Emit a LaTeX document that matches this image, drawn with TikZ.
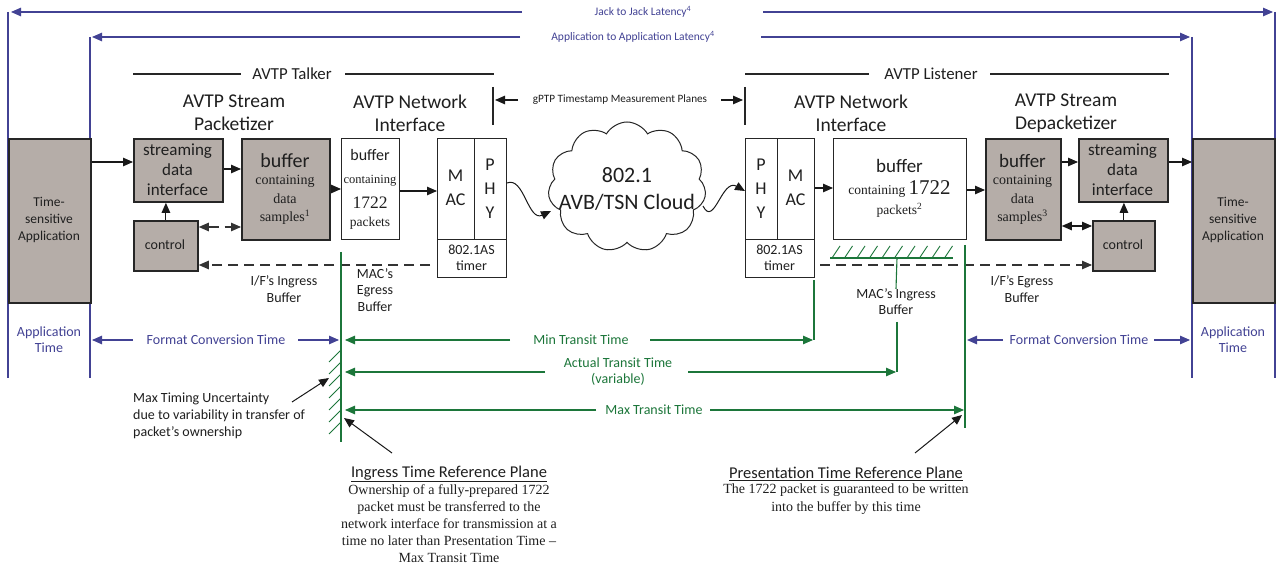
\documentclass[tikz,border=0pt]{standalone}
\usepackage{fontspec}
\setmainfont{Carlito}
\newfontfamily\tms{Liberation Serif}
\usetikzlibrary{arrows.meta,shapes.symbols}
\newcommand\myfs[2]{\fontsize{#1}{#2}\selectfont}
\definecolor{boxgray}{RGB}{181,173,168}
\definecolor{lblue}{RGB}{66,66,148}
\definecolor{lgreen}{RGB}{28,118,58}
\begin{document}
\begin{tikzpicture}[x=1pt,y=-1pt,
  >={Triangle[length=10pt,width=8.5pt]},
  gbox/.style={draw=black!85,line width=1.8pt,fill=boxgray,anchor=north west,inner sep=0pt},
  wbox/.style={draw=black!85,line width=1pt,fill=white,anchor=north west,inner sep=0pt},
  lbl/.style={inner sep=0pt,align=center,text=black!88},
  arr/.style={->,line width=1.1pt,black!90},
  darr/.style={line width=1.1pt,dash pattern=on 10pt off 6pt,black!80},
  bl/.style={line width=1.1pt,lblue},
  gl/.style={line width=1.1pt,lgreen},
  hl/.style={line width=1.8pt,black!85},
  blt/.style={lbl,text=lblue},
  glt/.style={lbl,text=lgreen},
]
\fill[white] (0,0) rectangle (1283,569);
\useasboundingbox (0,0) rectangle (1283,569);

% ---------- blue latency frame ----------
\coordinate (jL) at (8,12);   \coordinate (jR) at (1275,12);
\coordinate (aL) at (90,37);  \coordinate (aR) at (1192,37);
\draw[bl] (jL) -- (8,378);
\draw[bl] (aL) -- (90,378);
\draw[bl] (aR) -- (1192,378);
\draw[bl] (jR) -- (1275,378);
\node[blt,font=\myfs{11.5}{13}] (jack) at (643,12) {Jack to Jack Latency\textsuperscript{4}};
\node[blt,font=\myfs{11.5}{13}] (a2a) at (633,37) {Application to Application Latency\textsuperscript{4}};
\coordinate (jackL) at (522,12); \coordinate (jackR) at (763,12);
\coordinate (a2aL) at (520,37);  \coordinate (a2aR) at (761,37);
\draw[bl,->] (jackL) -- ([xshift=3pt]jL);
\draw[bl,->] (jackR) -- ([xshift=-2pt]jR);
\draw[bl,->] (a2aL) -- ([xshift=2pt]aL);
\draw[bl,->] (a2aR) -- ([xshift=-2pt]aR);

% ---------- headers ----------
\node[lbl,font=\myfs{16.8}{20}] (talk) at (292,74) {AVTP Talker};
\draw[hl] (133,74) -- (241,74);
\draw[hl] (345,74) -- (494,74);
\node[lbl,font=\myfs{16.8}{20}] (list) at (931,74) {AVTP Listener};
\draw[hl] (745,74) -- (869,74);
\draw[hl] (990,74) -- (1169,74);

\node[lbl,font=\myfs{19.5}{23}] (pkz) at (234,113) {AVTP Stream\\Packetizer};
\node[lbl,font=\myfs{19.5}{23}] (nil) at (410,113) {AVTP Network\\Interface};
\node[lbl,font=\myfs{19.5}{23}] (nir) at (851,113) {AVTP Network\\Interface};
\node[lbl,font=\myfs{19.5}{23}] (dpz) at (1066,113) {AVTP Stream\\Depacketizer};

% gPTP planes
\coordinate (gT1) at (493,87); \coordinate (gB1) at (493,125);
\coordinate (gT2) at (745,87); \coordinate (gB2) at (745,125);
\draw[line width=1.2pt,black!85] (gT1) -- (gB1);
\draw[line width=1.2pt,black!85] (gT2) -- (gB2);
\node[lbl,font=\myfs{11.2}{13}] (gptp) at (620,100) {gPTP Timestamp Measurement Planes};
\draw[arr] (518,100) -- (495,100);
\draw[arr] (721,100) -- (743,100);

% ---------- boxes ----------
\node[gbox,minimum width=82pt,minimum height=164pt] (appL) at (8,138) {};
\node[lbl,font=\myfs{13.5}{17}] (appLt) at (49,220) {Time-\\sensitive\\Application};
\node[gbox,minimum width=89pt,minimum height=63pt] (sdiL) at (133,138) {};
\node[lbl,font=\myfs{17}{20}] (sdiLt) at (177.5,169.5) {streaming\\data\\interface};
\node[gbox,minimum width=64pt,minimum height=50pt] (ctrlL) at (133,220) {};
\node[lbl,font=\myfs{14}{16}] (ctrlLt) at (165,245) {control};
\node[gbox,minimum width=88pt,minimum height=101pt] (bufL) at (241,138) {};
\node[lbl,font=\myfs{20}{22}] (bufLa) at (285,161) {buffer};
\node[lbl,font=\tms\myfs{14}{18.3}] (bufLb) at (285,200) {containing\\data\\samples\textsuperscript{1}};
\node[wbox,minimum width=58pt,minimum height=101pt] (pktL) at (341,138) {};
\node[lbl,font=\myfs{16}{17}] (pktLa) at (370,155) {buffer};
\node[lbl,font=\tms\myfs{12.5}{14}] (pktLb) at (370,181) {containing};
\node[lbl,font=\tms\myfs{17.5}{18}] (pktLc) at (370,203) {1722};
\node[lbl,font=\tms\myfs{13.5}{15}] (pktLd) at (370,223) {packets};
\node[wbox,minimum width=37pt,minimum height=101pt] (macL) at (437,138) {};
\node[lbl,font=\myfs{18}{24}] (macLt) at (455.5,188) {M\\AC};
\node[wbox,minimum width=32pt,minimum height=101pt] (phyL) at (474,138) {};
\node[lbl,font=\myfs{18}{24}] (phyLt) at (490,189) {P\\H\\Y};
\node[wbox,minimum width=69pt,minimum height=38pt] (timL) at (437,239) {};
\node[lbl,font=\myfs{14}{16}] (timLt) at (471.5,258) {802.1AS\\timer};

\node[draw=black!85,line width=1pt,fill=white,cloud,cloud puffs=11,cloud puff arc=120,aspect=1.25,minimum width=158pt,minimum height=130pt,inner sep=0pt] (cloud) at (627,187) {};
\node[lbl,font=\myfs{22}{27}] (cloudt) at (627,189) {802.1\\AVB/TSN Cloud};

\node[wbox,minimum width=32pt,minimum height=101pt] (phyR) at (745,138) {};
\node[lbl,font=\myfs{18}{24}] (phyRt) at (761,189) {P\\H\\Y};
\node[wbox,minimum width=37pt,minimum height=101pt] (macR) at (777,138) {};
\node[lbl,font=\myfs{18}{24}] (macRt) at (795.5,188) {M\\AC};
\node[wbox,minimum width=69pt,minimum height=38pt] (timR) at (745,239) {};
\node[lbl,font=\myfs{14}{16}] (timRt) at (779.5,258) {802.1AS\\timer};
\node[wbox,minimum width=133pt,minimum height=101pt] (pktR) at (833,138) {};
\node[lbl,font=\myfs{19}{21}] (pktRa) at (899.5,166) {buffer};
\node[lbl,font=\tms\myfs{13.5}{15}] (pktRb) at (899.5,189) {containing {\myfs{21}{22}1722}};
\node[lbl,font=\tms\myfs{13.5}{15}] (pktRc) at (899.5,210) {packets\textsuperscript{2}};
\node[gbox,minimum width=75pt,minimum height=101pt] (bufR) at (985,138) {};
\node[lbl,font=\myfs{19}{21}] (bufRa) at (1022.5,161) {buffer};
\node[lbl,font=\tms\myfs{14}{18.3}] (bufRb) at (1022.5,200) {containing\\data\\samples\textsuperscript{3}};
\node[gbox,minimum width=89pt,minimum height=63pt] (sdiR) at (1078,138) {};
\node[lbl,font=\myfs{17}{20}] (sdiRt) at (1122.5,169.5) {streaming\\data\\interface};
\node[gbox,minimum width=62pt,minimum height=50pt] (ctrlR) at (1092,220) {};
\node[lbl,font=\myfs{14}{16}] (ctrlRt) at (1123,245) {control};
\node[gbox,minimum width=82pt,minimum height=164pt] (appR) at (1192,138) {};
\node[lbl,font=\myfs{13.5}{17}] (appRt) at (1233,220) {Time-\\sensitive\\Application};

% ---------- data-path arrows ----------
\draw[arr] (appL.east |- 0,162) -- (sdiL.west |- 0,162);
\draw[arr] (sdiL.east |- 0,169) -- (bufL.west |- 0,169);
\draw[arr] (bufL.east |- 0,189) -- (pktL.west |- 0,189);
\draw[arr] (pktL.east |- 0,191) -- (macL.west |- 0,191);
\draw[arr] (ctrlL.north) -- (ctrlL.north |- sdiL.south);
\draw[darr,<->] (ctrlL.east |- 0,227) -- (bufL.west |- 0,227);
\coordinate (dsL) at (430,265);
\draw[darr,->] (dsL) -- (ctrlL.east |- dsL);
\coordinate (cin) at (551,211);
\coordinate (cout) at (703,206);
\draw[arr,line width=1pt] (phyL.east |- 0,183) .. controls (524,176) and (528,222) .. (cin);
\draw[arr,line width=1pt] (cout) .. controls (714,228) and (722,178) .. (phyR.west |- 0,191);
\draw[arr] (macR.east |- 0,188) -- (pktR.west |- 0,188);
\draw[arr] (pktR.east |- 0,190) -- (bufR.west |- 0,190);
\draw[arr] (bufR.east |- 0,162) -- (sdiR.west |- 0,162);
\draw[arr] (sdiR.east |- 0,162) -- (appR.west |- 0,162);
\draw[arr] (ctrlR.north) -- (ctrlR.north |- sdiR.south);
\draw[arr,<->] (bufR.east |- 0,226) -- (ctrlR.west |- 0,226);
\coordinate (dsR) at (820,265);
\draw[darr,->] (dsR) -- (ctrlR.west |- dsR);

% ---------- buffer labels ----------
\node[lbl,font=\myfs{14}{16.5}] (ifin) at (284,289) {I/F’s Ingress\\Buffer};
\node[lbl,font=\myfs{14}{16.3}] (maceg) at (375,290) {MAC’s\\Egress\\Buffer};
\node[lbl,font=\myfs{14}{16}] (macin) at (896,302) {MAC’s Ingress\\Buffer};
\node[lbl,font=\myfs{14}{16.5}] (ifeg) at (1022,289) {I/F’s Egress\\Buffer};

% ---------- green reference planes ----------
\coordinate (ipT) at (341,252); \coordinate (ipB) at (341,442);
\draw[gl] (ipT) -- (ipB);
\foreach \y in {350,362,...,430} \draw[gl,line width=0.9pt] (329,\y+12) -- (341,\y);
\coordinate (ppT) at (965,245); \coordinate (ppB) at (965,428);
\draw[gl] (ppT) -- (ppB);
\draw[gl] (830,258) -- (953,258);
\foreach \x in {832,844.5,...,946} \draw[gl,line width=0.9pt] (\x,258) -- (\x+8,246);
\draw[gl] (897,258) -- (macin.north);
\draw[gl] (897,322) -- (897,372);
\draw[gl] (814,280) -- (814,340);

\node[glt,font=\myfs{14}{16}] (mtt) at (581,340) {Min Transit Time};
\draw[gl,->] (510,340) -- (345,340);
\draw[gl,->] (650,340) -- (813,340);
\node[glt,font=\myfs{14}{16}] (att) at (618,372) {Actual Transit Time\\(variable)};
\draw[gl,->] (545,372) -- (345,372);
\draw[gl,->] (688,372) -- (896,372);
\node[glt,font=\myfs{14}{16}] (xtt) at (654,410) {Max Transit Time};
\draw[gl,->] (596,410) -- (345,410);
\draw[gl,->] (710,410) -- (964,410);

% ---------- format conversion ----------
\node[blt,font=\myfs{14}{16}] (fctL) at (216,340) {Format Conversion Time};
\draw[bl,->] (133,340) -- (92,340);
\draw[bl,->] (298,340) -- (339,340);
\node[blt,font=\myfs{14}{16}] (fctR) at (1079,340) {Format Conversion Time};
\draw[bl,->] (1003,340) -- (967,340);
\draw[bl,->] (1154,340) -- (1190,340);
\node[blt,font=\myfs{14}{16}] (atL) at (49,340) {Application\\Time};
\node[blt,font=\myfs{14}{16}] (atR) at (1233,340) {Application\\Time};

% ---------- annotations ----------
\node[lbl,align=left,anchor=west,font=\myfs{14}{17}] (mtu) at (133,416) {Max Timing Uncertainty\\due to variability in transfer of\\packet’s ownership};
\draw[arr,line width=1pt] (292,402) -- (329,378);
\draw[arr,line width=1pt] (392,453) -- (344,418);
\draw[arr,line width=1pt] (915,453) -- (962,415);

\node[lbl,font=\myfs{16.5}{19}] (ing) at (449,474) {\underline{Ingress Time Reference Plane}};
\node[lbl,anchor=north,font=\tms\myfs{14}{17.2}] (ingd) at (449,484) {Ownership of a fully-prepared 1722\\packet must be transferred to the\\network interface for transmission at a\\time no later than Presentation Time –\\Max Transit Time};
\node[lbl,font=\myfs{16.5}{19}] (pres) at (846,474) {\underline{Presentation Time Reference Plane}};
\node[lbl,anchor=north,font=\tms\myfs{14}{17.2}] (presd) at (846,484) {The 1722 packet is guaranteed to be written\\into the buffer by this time};
\end{tikzpicture}
\end{document}
